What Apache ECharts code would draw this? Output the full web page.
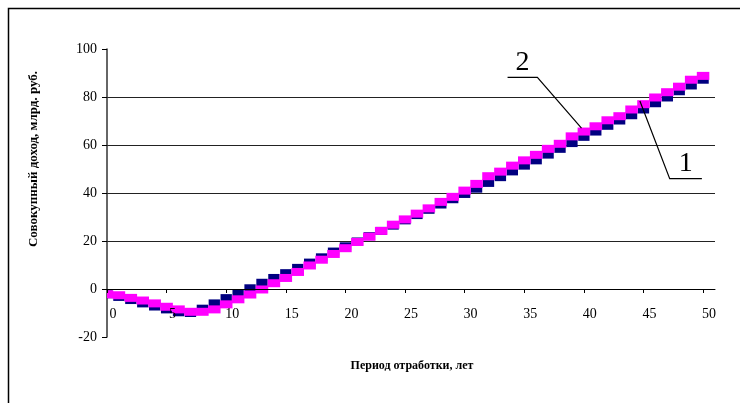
<!DOCTYPE html>
<html>
<head>
<meta charset="utf-8">
<script src="https://cdn.jsdelivr.net/npm/echarts@6/dist/echarts.min.js"></script>
<style>
  html, body { margin: 0; padding: 0; background: #fff; }
  #chart { width: 740px; height: 403px; }
</style>
</head>
<body>
<div id="chart"></div>
<script>
// Years of operation
const years = Array.from({ length: 51 }, (_, i) => i);

// Curve 1 (navy) and curve 2 (magenta): cumulative income, bn rub.
const income1 = [
  -2.2, -3.3, -4.6, -6.0, -7.3, -8.5, -9.7, -10.0, -8.2, -6.0,
  -3.8, -1.8, 0.3, 2.6, 4.6, 6.6, 8.8, 11.0, 13.2, 15.6,
  17.8, 19.8, 22.0, 24.2, 26.4, 28.6, 30.8, 33.0, 35.2, 37.4,
  39.6, 41.8, 44.2, 46.6, 49.0, 51.4, 53.6, 56.0, 58.4, 60.8,
  63.4, 65.6, 68.0, 70.2, 72.4, 74.8, 77.4, 79.8, 82.4, 84.8,
  87.2
];
const income2 = [
  -2.2, -2.6, -3.7, -4.8, -6.0, -7.4, -8.5, -9.5, -9.5, -8.5,
  -6.4, -4.3, -2.3, -0.2, 2.4, 4.6, 7.1, 9.8, 12.2, 14.6,
  17.0, 19.6, 21.8, 24.2, 26.8, 29.0, 31.4, 33.6, 36.3, 38.4,
  41.0, 43.8, 47.0, 48.9, 51.4, 53.6, 55.9, 58.4, 60.5, 63.6,
  65.6, 67.8, 70.3, 72.0, 74.8, 77.0, 79.8, 82.0, 84.3, 87.2,
  88.8
];

// Axis tick labels
const xTickLabels = ['0', '5', '10', '15', '20', '25', '30', '35', '40', '45', '50'];
const yMin = -20, yMax = 100, yStep = 20;

// Callout labels: text, anchor on the curve, elbow, end of the underline
const calloutText = ['2', '1'];
const calloutAnchor = [[39.8, 67.0], [44.7, 78.3]];
const calloutElbow = [[36.1, 88.2], [47.2, 46.0]];
const calloutEnd = [[33.6, 88.2], [49.9, 46.0]];

const serif = "'Liberation Serif', 'Times New Roman', serif";

const chart = echarts.init(document.getElementById('chart'), null, { renderer: 'canvas' });

function blockRenderer(widthScale, height) {
  return function (params, api) {
    const c = api.coord([api.value(0), api.value(1)]);
    const w = api.size([1, 0])[0] * widthScale;
    return {
      type: 'rect',
      shape: { x: c[0] - w / 2, y: c[1] - height / 2, width: w, height: height },
      style: { fill: api.visual('color') }
    };
  };
}

const option = {
  backgroundColor: '#fff',
  animation: false,
  grid: { left: 107, right: 25, top: 49, bottom: 66 },
  xAxis: {
    type: 'value',
    min: 0,
    max: 51,
    zlevel: 1,
    axisLine: { onZero: true, lineStyle: { color: '#000', width: 1 } },
    axisTick: {
      show: true, inside: false, length: 4,
      customValues: xTickLabels.map(Number),
      lineStyle: { color: '#000' }
    },
    axisLabel: {
      customValues: xTickLabels.map(s => Number(s) + 0.5),
      formatter: v => String(Math.floor(v)),
      margin: 18,
      color: '#000',
      fontFamily: serif,
      fontSize: 14
    },
    splitLine: { show: false }
  },
  yAxis: {
    type: 'value',
    min: yMin,
    max: yMax,
    interval: yStep,
    axisLine: { show: true, lineStyle: { color: '#333', width: 1.5 } },
    axisTick: { show: true, inside: false, length: 5, lineStyle: { color: '#000' } },
    axisLabel: { margin: 10, color: '#000', fontFamily: serif, fontSize: 14 },
    splitLine: {
      show: true, showMinLine: false, showMaxLine: false,
      lineStyle: { color: '#222', width: 1 }
    }
  },
  series: [
    {
      name: '1',
      type: 'custom',
      clip: true,
      color: '#000080',
      encode: { x: 0, y: 1 },
      data: years.map((y, i) => [y, income1[i]]),
      renderItem: blockRenderer(0.95, 8),
      z: 2
    },
    {
      name: '2',
      type: 'custom',
      clip: true,
      color: '#ff00ff',
      encode: { x: 0, y: 1 },
      data: years.map((y, i) => [y, income2[i]]),
      renderItem: blockRenderer(1.05, 8),
      z: 3
    }
  ]
};

chart.setOption(option);

// Keep the year labels just under the zero line
const px = p => chart.convertToPixel({ gridIndex: 0 }, p);
const zeroY = px([0, 0])[1];
const bottomY = px([0, yMin])[1];
chart.setOption({ xAxis: { axisLabel: { margin: 18 - (bottomY - zeroY) } } });

// Frame, axis titles and callouts
const graphics = [
  {
    type: 'polyline',
    shape: { points: [[8.5, 403], [8.5, 8.5], [740, 8.5]] },
    style: { stroke: '#000', lineWidth: 1.5, fill: null },
    silent: true
  },
  {
    type: 'text',
    x: 34, y: 159,
    rotation: Math.PI / 2,
    style: {
      text: 'Совокупный доход, млрд. руб.',
      font: 'bold 13px ' + serif,
      fill: '#000',
      align: 'center',
      verticalAlign: 'middle'
    }
  },
  {
    type: 'text',
    x: 412, y: 366,
    style: {
      text: 'Период отработки, лет',
      font: 'bold 12px ' + serif,
      fill: '#000',
      align: 'center',
      verticalAlign: 'middle'
    }
  }
];

calloutText.forEach((t, i) => {
  const a = px(calloutAnchor[i]);
  const e = px(calloutElbow[i]);
  const f = px(calloutEnd[i]);
  graphics.push({
    type: 'polyline',
    shape: { points: [a, e, f] },
    style: { stroke: '#000', lineWidth: 1.2, fill: null },
    z: 10
  });
  graphics.push({
    type: 'text',
    x: (e[0] + f[0]) / 2,
    y: e[1] - 1,
    style: {
      text: t,
      font: '28px ' + serif,
      fill: '#000',
      align: 'center',
      verticalAlign: 'bottom'
    },
    z: 10
  });
});

chart.setOption({ graphic: graphics });
</script>
</body>
</html>
